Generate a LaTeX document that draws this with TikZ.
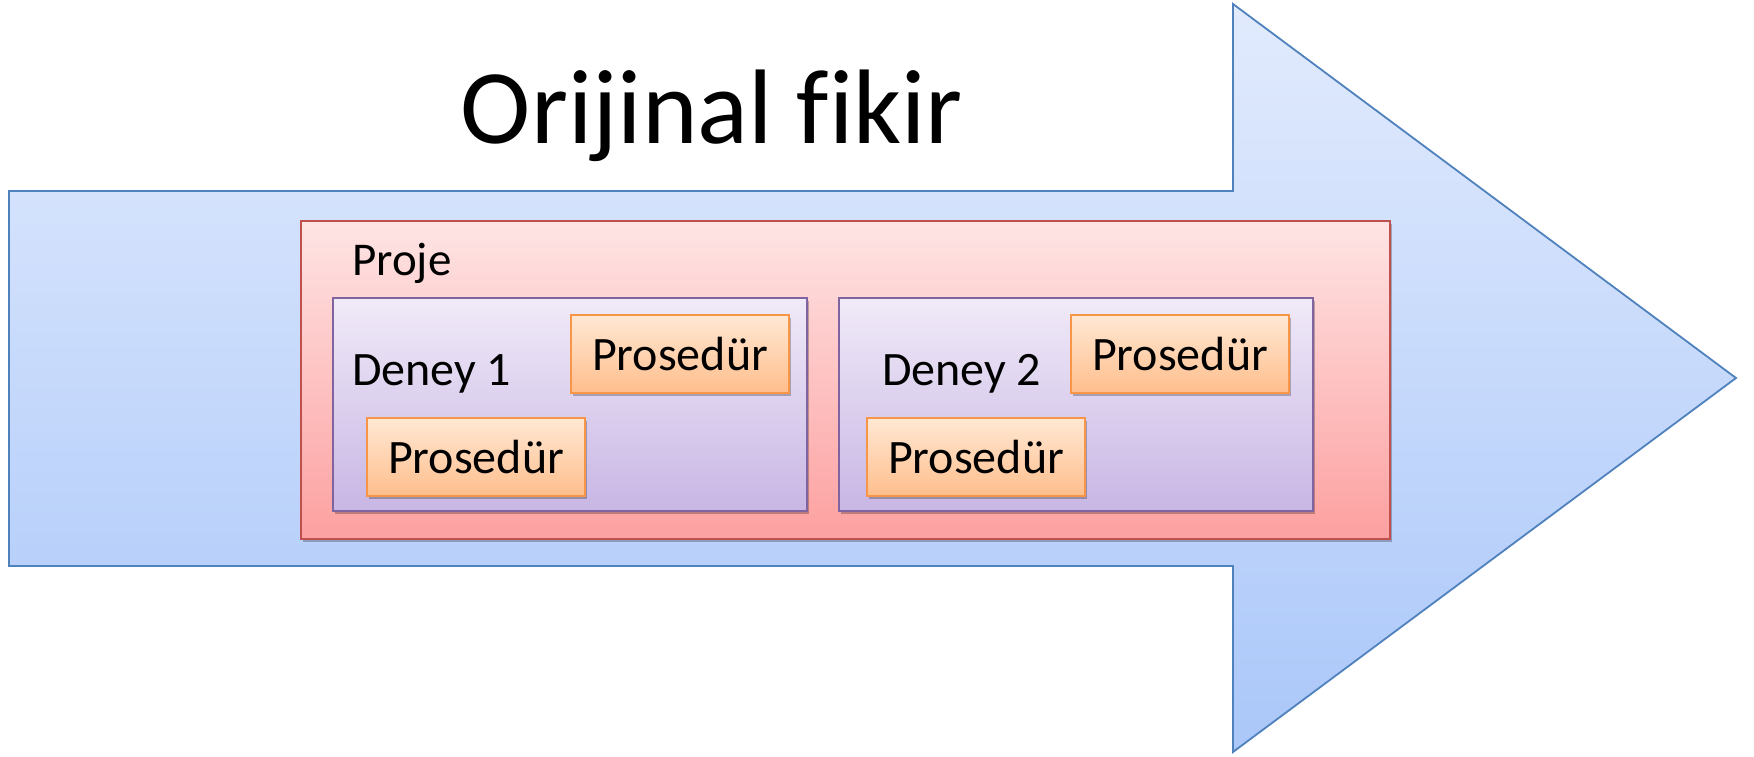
\documentclass[tikz,border=0pt]{standalone}
\usepackage{fontspec}
\setmainfont{Carlito}[Ligatures=NoCommon]
\usetikzlibrary{positioning, shadows}

\definecolor{arrowline}{RGB}{79,129,189}
\definecolor{arrowtop}{RGB}{226,235,253}
\definecolor{arrowbot}{RGB}{170,199,249}
\definecolor{projeline}{RGB}{192,80,77}
\definecolor{projetop}{RGB}{254,228,228}
\definecolor{projebot}{RGB}{253,160,160}
\definecolor{deneyline}{RGB}{128,100,162}
\definecolor{deneytop}{RGB}{240,234,248}
\definecolor{deneybot}{RGB}{200,182,228}
\definecolor{procline}{RGB}{247,150,70}
\definecolor{proctop}{RGB}{255,232,212}
\definecolor{procbot}{RGB}{255,190,140}

\begin{document}
\begin{tikzpicture}[
    x=1pt, y=-1pt,
    box/.style={rectangle, draw, line width=2pt, anchor=north west, inner sep=0pt},
    softshadow/.style={drop shadow={shadow xshift=2pt, shadow yshift=-3pt, opacity=0.25, fill=black}},
    projebox/.style={box, draw=projeline, top color=projetop, bottom color=projebot, softshadow},
    deneybox/.style={box, draw=deneyline, top color=deneytop, bottom color=deneybot, minimum width=474pt, minimum height=213pt, softshadow},
    procbox/.style={box, draw=procline, top color=proctop, bottom color=procbot, minimum width=218pt, minimum height=78pt, font=\fontsize{48}{57}\selectfont, softshadow},
    lbl/.style={anchor=base west, inner sep=0pt, font=\fontsize{48}{57}\selectfont}
]
\useasboundingbox (0,0) rectangle (1754,757);

% Big arrow
\draw[line width=1.8pt, draw=arrowline, top color=arrowtop, bottom color=arrowbot]
    (9,191) -- (1233,191) -- (1233,4) -- (1736,378) -- (1233,752) -- (1233,566) -- (9,566) -- cycle;

% Title
\node[anchor=base, inner sep=0pt, font=\fontsize{106}{120}\selectfont] (title) at (712,143) {Orijinal fikir};

% Project box
\node[projebox, minimum width=1089pt, minimum height=318pt] (proje) at (300,220) {};
\node[lbl, font=\fontsize{47}{56}\selectfont] (projelbl) at (352,275) {Proje};

% Experiment boxes
\node[deneybox] (deney1) at (332,297) {};
\node[deneybox] (deney2) at (838,297) {};
\node[lbl] (deney1lbl) at (352,385) {Deney 1};
\node[lbl] (deney2lbl) at (882,385) {Deney 2};

% Procedure boxes
\node[procbox] (proc1a) at (570,314) {Prosedür};
\node[procbox] (proc1b) at (366,417) {Prosedür};
\node[procbox] (proc2a) at (1070,314) {Prosedür};
\node[procbox] (proc2b) at (866,417) {Prosedür};

\end{tikzpicture}
\end{document}
